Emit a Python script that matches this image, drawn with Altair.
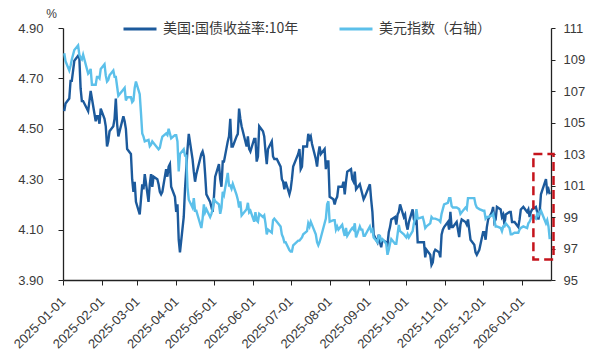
import altair as alt
import pandas as pd

SERIES = ["美国:国债收益率:10年", "美元指数（右轴）"]
COLORS = ["#1c5a9c", "#5cc0ea"]

# trading days per month
trade_days = {
    "2025-01": [2, 3, 6, 7, 8, 10, 13, 14, 15, 16, 17, 21, 22, 23, 24, 27, 28, 29, 30, 31],
    "2025-02": [3, 4, 5, 6, 7, 10, 11, 12, 13, 14, 18, 19, 20, 21, 24, 25, 26, 27, 28],
    "2025-03": [3, 4, 5, 6, 7, 10, 11, 12, 13, 14, 17, 18, 19, 20, 21, 24, 25, 26, 27, 28, 31],
    "2025-04": [1, 2, 3, 4, 7, 8, 9, 10, 11, 14, 15, 16, 17, 21, 22, 23, 24, 25, 28, 29, 30],
    "2025-05": [1, 2, 5, 6, 7, 8, 9, 12, 13, 14, 15, 16, 19, 20, 21, 22, 23, 27, 28, 29, 30],
    "2025-06": [2, 3, 4, 5, 6, 9, 10, 11, 12, 13, 16, 17, 18, 20, 23, 24, 25, 26, 27, 30],
    "2025-07": [1, 2, 3, 7, 8, 9, 10, 11, 14, 15, 16, 17, 18, 21, 22, 23, 24, 25, 28, 29, 30, 31],
    "2025-08": [1, 4, 5, 6, 7, 8, 11, 12, 13, 14, 15, 18, 19, 20, 21, 22, 25, 26, 27, 28, 29],
    "2025-09": [2, 3, 4, 5, 8, 9, 10, 11, 12, 15, 16, 17, 18, 19, 22, 23, 24, 25, 26, 29, 30],
    "2025-10": [1, 2, 3, 6, 7, 8, 9, 10, 14, 15, 16, 17, 20, 21, 22, 23, 24, 27, 28, 29, 30, 31],
    "2025-11": [3, 4, 5, 6, 7, 10, 12, 13, 14, 17, 18, 19, 20, 21, 24, 25, 26, 28],
    "2025-12": [1, 2, 3, 4, 5, 8, 9, 10, 11, 12, 15, 16, 17, 18, 19, 22, 23, 24, 26, 29, 30, 31],
    "2026-01": [2, 5, 6, 7, 8, 9, 12, 13, 14, 15, 16, 20, 21, 22, 23],
}

# US 10Y treasury yield (%)
ust10y = {
    "2025-01": [4.57, 4.60, 4.62, 4.69, 4.69, 4.77, 4.79, 4.78, 4.66, 4.61, 4.61, 4.57, 4.61, 4.65, 4.62, 4.53, 4.55, 4.55, 4.52, 4.58],
    "2025-02": [4.54, 4.51, 4.43, 4.45, 4.49, 4.51, 4.54, 4.62, 4.52, 4.47, 4.55, 4.53, 4.50, 4.42, 4.40, 4.30, 4.25, 4.29, 4.21],
    "2025-03": [4.16, 4.22, 4.28, 4.26, 4.32, 4.21, 4.28, 4.32, 4.27, 4.31, 4.30, 4.28, 4.25, 4.24, 4.25, 4.34, 4.31, 4.35, 4.36, 4.27, 4.23],
    "2025-04": [4.17, 4.20, 4.06, 4.01, 4.15, 4.26, 4.34, 4.42, 4.48, 4.38, 4.33, 4.29, 4.32, 4.40, 4.41, 4.39, 4.32, 4.24, 4.21, 4.19, 4.17],
    "2025-05": [4.23, 4.31, 4.36, 4.30, 4.27, 4.37, 4.37, 4.45, 4.47, 4.54, 4.43, 4.43, 4.47, 4.48, 4.58, 4.54, 4.51, 4.43, 4.47, 4.42, 4.41],
    "2025-06": [4.46, 4.46, 4.37, 4.39, 4.51, 4.49, 4.47, 4.41, 4.36, 4.42, 4.45, 4.39, 4.38, 4.38, 4.35, 4.30, 4.29, 4.26, 4.29, 4.24],
    "2025-07": [4.26, 4.30, 4.35, 4.40, 4.42, 4.34, 4.35, 4.43, 4.43, 4.48, 4.46, 4.47, 4.44, 4.38, 4.35, 4.40, 4.43, 4.40, 4.42, 4.34, 4.37, 4.37],
    "2025-08": [4.23, 4.22, 4.20, 4.22, 4.23, 4.27, 4.27, 4.29, 4.24, 4.29, 4.33, 4.34, 4.30, 4.29, 4.33, 4.26, 4.28, 4.26, 4.24, 4.22, 4.23],
    "2025-09": [4.28, 4.22, 4.17, 4.08, 4.05, 4.08, 4.05, 4.03, 4.06, 4.05, 4.04, 4.09, 4.11, 4.14, 4.15, 4.12, 4.16, 4.17, 4.20, 4.15, 4.16],
    "2025-10": [4.12, 4.10, 4.13, 4.18, 4.14, 4.13, 4.15, 4.05, 4.05, 4.05, 3.99, 4.02, 4.00, 3.96, 3.97, 4.01, 4.02, 4.01, 3.99, 4.08, 4.10, 4.11],
    "2025-11": [4.13, 4.10, 4.17, 4.11, 4.11, 4.13, 4.07, 4.12, 4.14, 4.13, 4.12, 4.14, 4.10, 4.06, 4.04, 4.01, 4.00, 4.02],
    "2025-12": [4.09, 4.09, 4.06, 4.11, 4.14, 4.17, 4.19, 4.13, 4.14, 4.19, 4.18, 4.15, 4.16, 4.12, 4.16, 4.17, 4.17, 4.13, 4.13, 4.11, 4.14, 4.18],
    "2026-01": [4.19, 4.17, 4.18, 4.15, 4.17, 4.18, 4.19, 4.17, 4.14, 4.17, 4.24, 4.30, 4.25, 4.26, 4.24],
}

# US dollar index (right axis)
dxy = {
    "2025-01": [109.4, 108.9, 108.3, 108.6, 109.0, 109.6, 109.9, 109.3, 109.1, 109.0, 109.3, 108.1, 108.2, 108.4, 107.4, 107.4, 107.9, 107.9, 107.8, 108.4],
    "2025-02": [108.7, 108.0, 107.6, 107.7, 108.0, 108.3, 107.9, 107.9, 107.3, 106.7, 107.1, 107.2, 106.4, 106.6, 106.6, 106.3, 106.4, 107.2, 107.6],
    "2025-03": [106.8, 105.6, 104.3, 104.1, 103.8, 103.9, 103.5, 103.6, 103.8, 103.7, 103.4, 103.3, 103.4, 103.8, 104.1, 104.3, 104.2, 104.6, 104.3, 104.0, 104.2],
    "2025-04": [104.2, 103.8, 101.9, 103.0, 103.3, 102.9, 102.9, 100.9, 100.1, 99.6, 100.2, 99.4, 99.4, 98.3, 98.9, 99.8, 99.3, 99.5, 99.0, 99.2, 99.5],
    "2025-05": [100.2, 100.0, 99.8, 99.2, 99.6, 100.6, 100.4, 101.8, 101.0, 101.0, 100.8, 101.1, 100.4, 100.1, 99.6, 100.0, 99.1, 99.5, 99.9, 99.3, 99.4],
    "2025-06": [98.7, 99.3, 98.8, 98.7, 99.2, 99.0, 99.1, 98.6, 97.9, 98.2, 98.0, 98.8, 98.9, 98.7, 98.4, 97.9, 97.7, 97.4, 97.4, 96.9],
    "2025-07": [96.8, 96.8, 97.2, 97.5, 97.5, 97.6, 97.7, 97.9, 98.1, 98.6, 98.4, 98.7, 98.5, 97.9, 97.4, 97.2, 97.4, 97.7, 98.6, 98.9, 99.8, 100.0],
    "2025-08": [98.7, 98.8, 98.8, 98.2, 98.4, 98.2, 98.5, 98.1, 97.8, 98.3, 97.8, 98.2, 98.3, 98.2, 98.6, 97.7, 98.4, 98.2, 98.2, 97.8, 97.8],
    "2025-09": [98.4, 98.1, 98.2, 97.7, 97.4, 97.8, 97.8, 97.5, 97.6, 97.3, 96.6, 96.9, 97.3, 97.6, 97.3, 97.3, 97.9, 98.5, 98.1, 97.9, 97.8],
    "2025-10": [97.7, 97.9, 97.7, 98.1, 98.6, 98.9, 99.5, 98.9, 99.0, 98.7, 98.3, 98.4, 98.6, 99.0, 98.9, 98.9, 98.9, 98.8, 98.7, 99.2, 99.5, 99.8],
    "2025-11": [99.9, 100.2, 100.2, 99.7, 99.6, 99.6, 99.5, 99.2, 99.3, 99.6, 99.5, 100.2, 100.2, 100.2, 100.2, 99.8, 99.6, 99.5],
    "2025-12": [99.4, 99.4, 98.9, 99.0, 99.0, 99.1, 99.2, 98.8, 98.4, 98.4, 98.3, 98.1, 98.4, 98.4, 98.6, 98.3, 97.9, 97.9, 98.0, 98.0, 98.2, 98.3],
    "2026-01": [98.4, 98.3, 98.6, 98.7, 98.9, 99.1, 98.9, 99.2, 99.1, 99.3, 99.4, 98.6, 98.8, 98.4, 97.6],
}

y_left_ticks = [3.9, 4.1, 4.3, 4.5, 4.7, 4.9]
y_right_ticks = [95, 97, 99, 101, 103, 105, 107, 109, 111]
x_tick_labels = ["2025-01-01", "2025-02-01", "2025-03-01", "2025-04-01", "2025-05-01",
                 "2025-06-01", "2025-07-01", "2025-08-01", "2025-09-01", "2025-10-01",
                 "2025-11-01", "2025-12-01", "2026-01-01"]
x_domain = ["2025-01-01", "2026-01-24"]

# highlighted box (dashed red)
box_start = ["2026-01-10"]
box_end = ["2026-01-26"]
box_top = [103.0]
box_bottom = [96.3]

rows = []
for m, ds in trade_days.items():
    for d, u, x in zip(ds, ust10y[m], dxy[m]):
        rows.append({"date": pd.Timestamp(f"{m}-{d:02d}"), "ust": u, "dxy": x})
df = pd.DataFrame(rows)

box_df = pd.DataFrame({
    "start": pd.to_datetime(box_start), "end": pd.to_datetime(box_end),
    "top": box_top, "bottom": box_bottom,
})


def dt(s):
    y, m, d = (int(v) for v in s.split("-"))
    return alt.DateTime(year=y, month=m, date=d)


LABEL_FONT = "Liberation Sans"
TXT = "#3a3a3a"
AXC = "#222222"

x_axis = alt.Axis(
    values=[dt(s) for s in x_tick_labels], format="%Y-%m-%d", labelAngle=-45,
    labelAlign="right", labelBaseline="middle", labelPadding=14, tickSize=5,
    labelFont=LABEL_FONT, labelFontSize=13, labelColor=TXT, domainColor=AXC,
    tickColor=AXC, domainWidth=1.3, grid=False, title=None, labelOverlap=False,
)
x_scale = alt.Scale(domain=[dt(s) for s in x_domain])


def xenc(field):
    return alt.X(f"{field}:T", scale=x_scale, axis=x_axis, title=None)


color_scale = alt.Scale(domain=SERIES, range=COLORS)
legend = alt.Legend(
    title=None, orient="none", legendX=59, legendY=-17, direction="horizontal",
    symbolType="stroke", symbolSize=1089, symbolStrokeWidth=3, labelFont="Noto Sans CJK SC",
    labelFontSize=14, labelColor=TXT, columnPadding=34, labelOffset=5, padding=0,
)

base = alt.Chart(df)

ust_line = base.transform_calculate(series=f"'{SERIES[0]}'").mark_line(strokeWidth=2.4).encode(
    x=xenc("date"),
    y=alt.Y("ust:Q", scale=alt.Scale(domain=[3.9, 4.9], zero=False, nice=False),
            axis=alt.Axis(values=y_left_ticks, format=".2f", tickSize=5, labelPadding=15,
                          labelFont=LABEL_FONT, labelFontSize=13, labelColor=TXT,
                          domainColor=AXC, tickColor=AXC, domainWidth=1.3, grid=False,
                          title="%", titleAngle=0, titleX=-12, titleY=-8, titleAlign="center",
                          titleBaseline="bottom", titleFontWeight="normal", titleFontSize=12,
                          titleFont=LABEL_FONT, titleColor=TXT)),
    color=alt.Color("series:N", scale=color_scale, legend=legend),
)

dxy_line = base.transform_calculate(series=f"'{SERIES[1]}'").mark_line(strokeWidth=2.4).encode(
    x=xenc("date"),
    y=alt.Y("dxy:Q", scale=alt.Scale(domain=[95, 111], zero=False, nice=False),
            axis=alt.Axis(orient="right", values=y_right_ticks, format="d", tickSize=4,
                          labelPadding=8, labelFont=LABEL_FONT, labelFontSize=13,
                          labelColor=TXT, domainColor=AXC, tickColor=AXC, domainWidth=1.3,
                          grid=False, title=None)),
    color=alt.Color("series:N", scale=color_scale, legend=legend),
)

box = alt.Chart(box_df).mark_rect(fillOpacity=0, stroke="#c5141c", strokeWidth=2.5,
                                  strokeDash=[9, 5]).encode(
    x=xenc("start"), x2="end:T",
    y=alt.Y("top:Q", scale=alt.Scale(domain=[95, 111], zero=False, nice=False), axis=None),
    y2="bottom:Q",
)

chart = alt.layer(ust_line, dxy_line, box).resolve_scale(y="independent").properties(
    width=488, height=252,
    autosize=alt.AutoSizeParams(type="none"),
    padding={"left": 63, "top": 28, "right": 46, "bottom": 74},
    background="white",
).configure_view(stroke=None)

chart.save("out.html", embed_options={"renderer": "svg", "actions": False})
